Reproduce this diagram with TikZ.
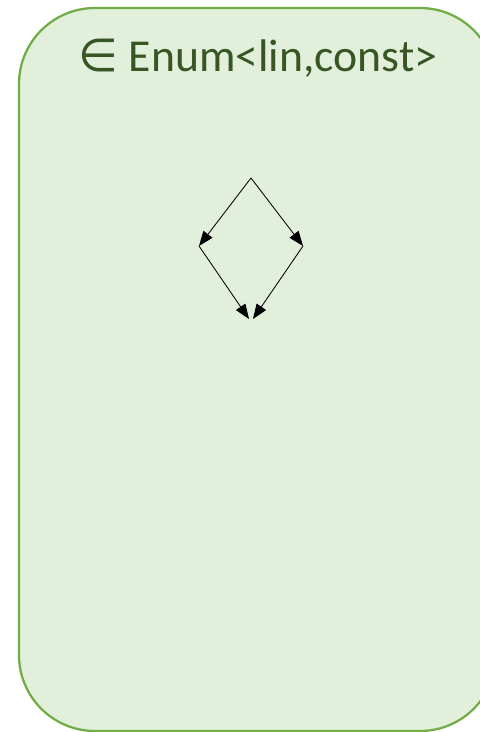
\documentclass[tikz,border=0pt]{standalone}
\usepackage{fontspec}
\setmainfont{Carlito}
\newfontfamily\symfont{DejaVu Sans}
\usetikzlibrary{arrows.meta}
\definecolor{boxfill}{HTML}{E2EFDA}
\definecolor{boxline}{HTML}{70AD47}
\definecolor{titlegreen}{HTML}{375623}
\begin{document}
\begin{tikzpicture}[x=0.025cm, y=-0.025cm,
  order/.style={-{Triangle[length=10.5pt,width=8pt]}, line width=0.6pt, black}]
\useasboundingbox (0,0) rectangle (480,732);
% enclosing set
\draw[boxline, fill=boxfill, line width=1.6pt, rounded corners=1.9cm] (19,8) rectangle (496,731);
\node[text=titlegreen, font=\fontsize{32.5}{38}\selectfont] (title) at (258,58) {{\symfont ∈} Enum<lin,const>};
% lattice
\coordinate (top) at (251,178);
\coordinate (lin) at (199,246);
\coordinate (const) at (303,246);
\coordinate (botl) at (249,319);
\coordinate (botr) at (253,319);
\draw[order] (top) -- (lin);
\draw[order] (top) -- (const);
\draw[order] (lin) -- (botl);
\draw[order] (const) -- (botr);
\end{tikzpicture}
\end{document}
